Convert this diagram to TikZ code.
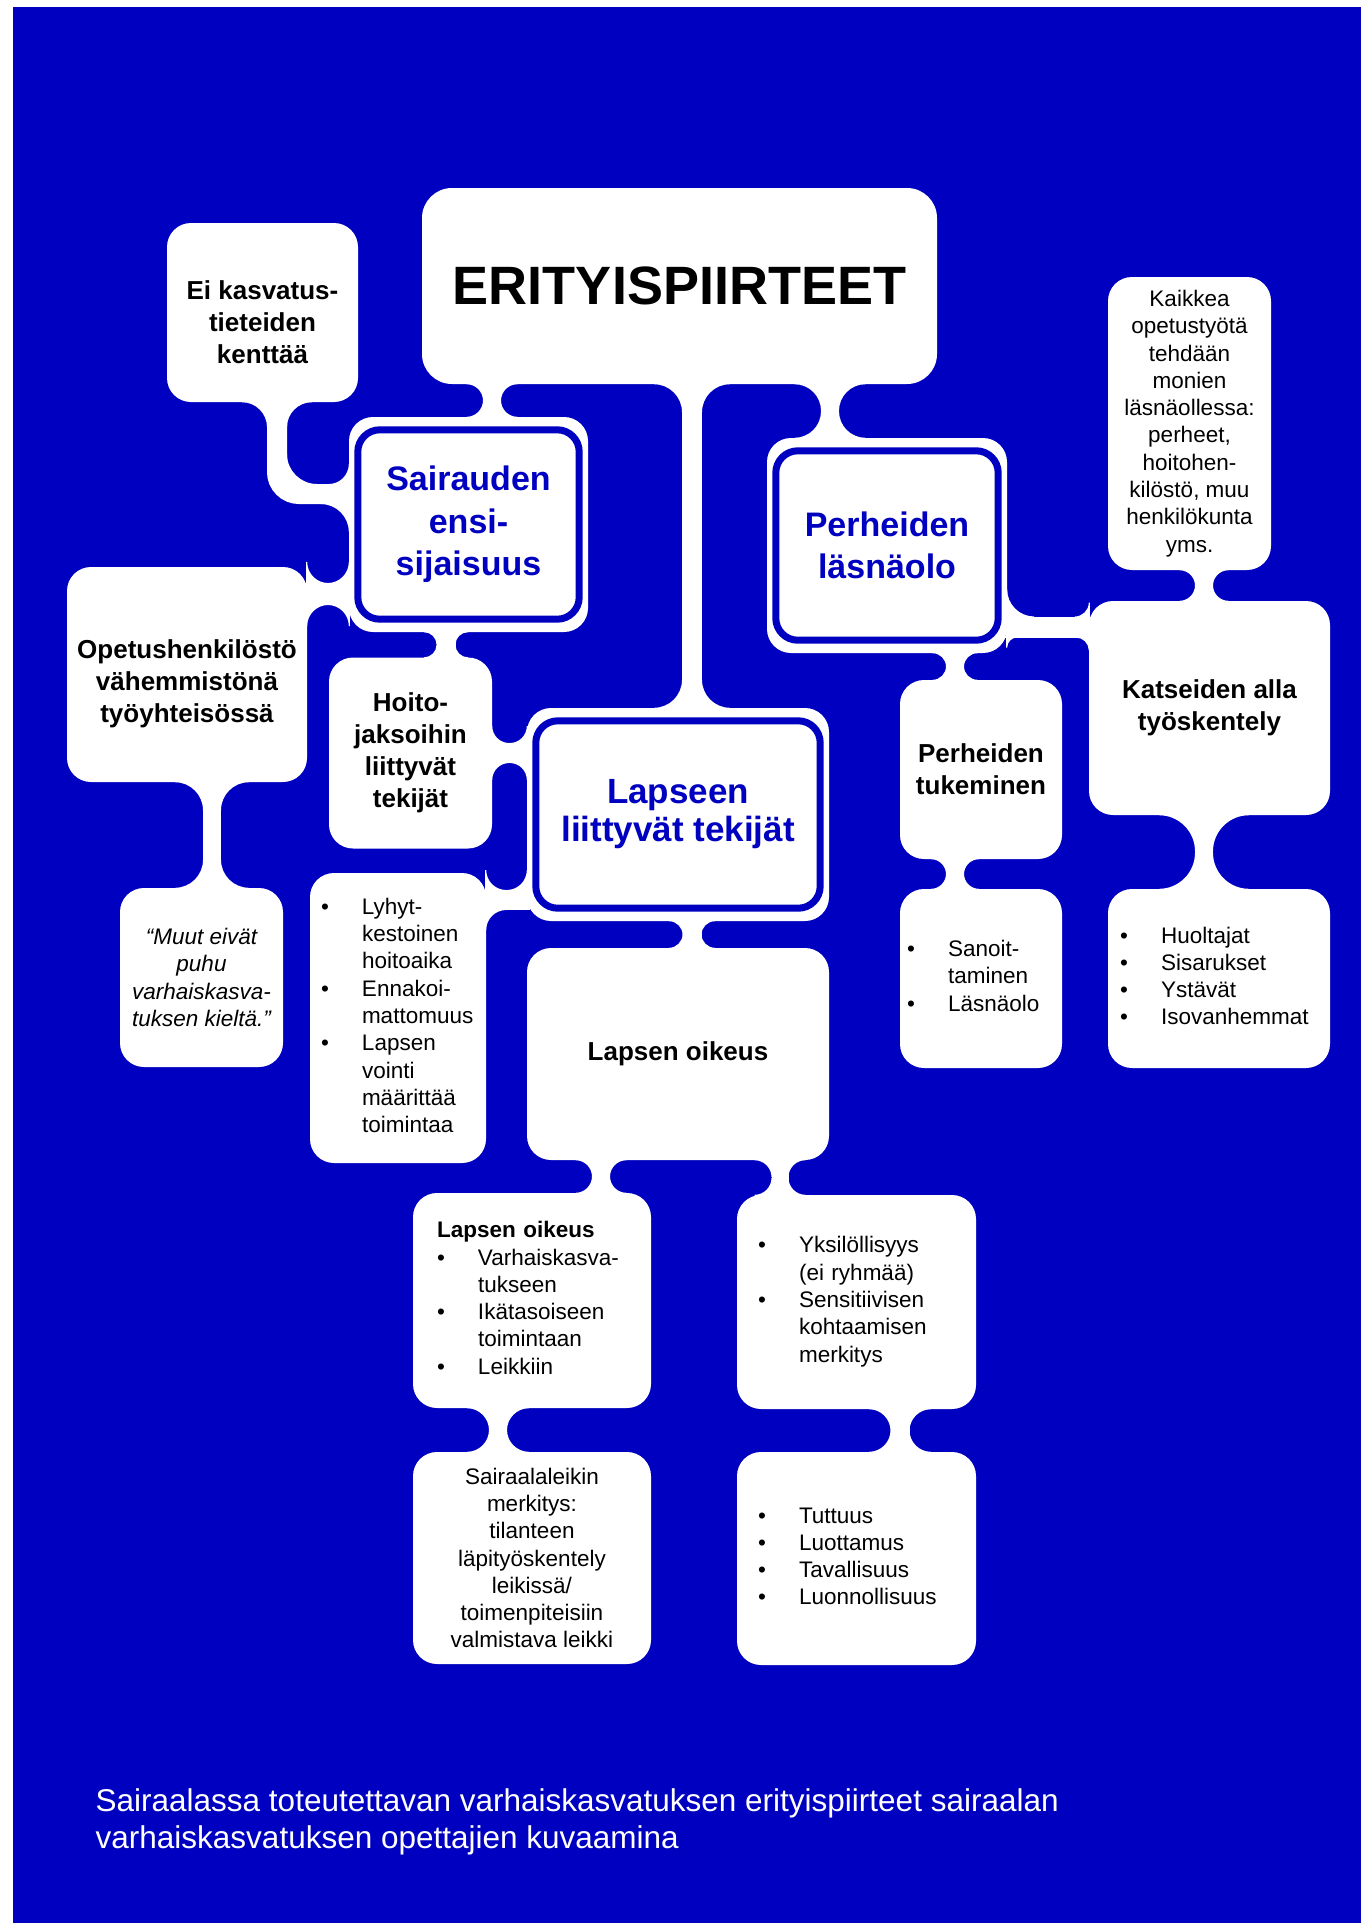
\documentclass[tikz,border=0pt]{standalone}
\usepackage{fontspec}
\setmainfont{Liberation Sans}
\definecolor{bblue}{RGB}{0,0,192}
\pgfdeclarelayer{back}
\pgfdeclarelayer{mid}
\pgfsetlayers{back,mid,main}

% concave white corner: corner point, x sign, y sign, radius
\newcommand{\fillet}[4]{%
  \ifdim#4pt>0pt
  \fill[white] (#1) ++({-1*(#2)},{-1*(#3)}) -- ++({#2*(#4+1)},0) -- ++(0,{#3})
    arc[start angle={-90*(#3)}, end angle={-90*(#3)*(1+(#2))}, radius=#4]
    -- ++({-1*(#2)},0) -- cycle;
  \fi}
% vertical neck: upper node, lower node, x, width, four fillet radii
\newcommand{\vneck}[8]{%
  \coordinate (nk) at (#3,0);
  \coordinate (nt) at (#1.south -| nk);
  \coordinate (nb) at (#2.north -| nk);
  \fill[white] ([xshift=-#4*0.5pt, yshift=3pt]nt) rectangle ([xshift=#4*0.5pt, yshift=-3pt]nb);
  \fillet{[xshift=-#4*0.5pt]nt}{-1}{1}{#5}
  \fillet{[xshift=#4*0.5pt]nt}{1}{1}{#6}
  \fillet{[xshift=-#4*0.5pt]nb}{-1}{-1}{#7}
  \fillet{[xshift=#4*0.5pt]nb}{1}{-1}{#8}}
% horizontal neck: left node, right node, y, width, four fillet radii
\newcommand{\hneck}[8]{%
  \coordinate (nk) at (0,#3);
  \coordinate (nl) at (#1.east |- nk);
  \coordinate (nr) at (#2.west |- nk);
  \fill[white] ([xshift=-3pt, yshift=#4*0.5pt]nl) rectangle ([xshift=3pt, yshift=-#4*0.5pt]nr);
  \fillet{[yshift=#4*0.5pt]nl}{1}{-1}{#5}
  \fillet{[yshift=-#4*0.5pt]nl}{1}{1}{#6}
  \fillet{[yshift=#4*0.5pt]nr}{-1}{-1}{#7}
  \fillet{[yshift=-#4*0.5pt]nr}{-1}{1}{#8}}

\begin{document}
\begin{tikzpicture}[x=1pt, y=-1pt,
  boxw/.style={fill=white, rounded corners=24, inner sep=0pt, align=center},
  ringb/.style={draw=bblue, line width=7pt, rounded corners=22},
  txtb/.style={font=\fontsize{26}{32}\selectfont\bfseries, align=center},
  txtr/.style={font=\fontsize{22.5}{27.3}\selectfont, align=center},
  txtit/.style={font=\fontsize{22.5}{27.3}\selectfont\itshape, align=center},
  headb/.style={font=\fontsize{34}{42.5}\selectfont\bfseries, text=bblue},
  titl/.style={font=\fontsize{54}{60}\selectfont\bfseries},
  capt/.style={font=\fontsize{31.5}{37}\selectfont, text=white, align=left, anchor=west, inner sep=0pt}]
  \useasboundingbox (0,0) rectangle (1361,1923);

  % Background
  \begin{pgfonlayer}{back}
    \fill[white] (0,0) rectangle (1361,1923);
    \fill[bblue] (12.5,6.5) rectangle (1361,1923);
  \end{pgfonlayer}

  % Boxes
  \node[boxw, titl, minimum width=515, minimum height=196, rounded corners=30] (erit) at (679.5,286) {ERITYISPIIRTEET};
  \node[boxw, minimum width=191, minimum height=179] (ei) at (262.5,312.5) {};
  \node[txtb] (ei-t) at ([yshift=-10pt]ei.center) {Ei kasvatus-\\tieteiden\\kenttää};
  \node[boxw, headb, minimum width=239, minimum height=215] (sair) at (468.5,524.5) {Sairauden\\ensi-\\sijaisuus};
  \node[boxw, headb, minimum width=240, minimum height=215] (perh) at (887,545.5) {Perheiden\\läsnäolo};
  \node[boxw, headb, font=\fontsize{35}{38}\selectfont\bfseries, minimum width=302, minimum height=213] (lapseen) at (678,814.5) {Lapseen\\liittyvät tekijät};
  \foreach \n in {sair, perh, lapseen}
    \draw[ringb] ([xshift=9pt, yshift=-13pt]\n.north west) rectangle ([xshift=-9pt, yshift=13pt]\n.south east);

  \node[boxw, txtr, minimum width=163, minimum height=293] (kaikkea) at (1189.5,423.5)
    {Kaikkea\\opetustyötä\\tehdään\\monien\\läsnäollessa:\\perheet,\\hoitohen-\\kilöstö, muu\\henkilökunta\\yms.};
  \node[boxw, txtb, minimum width=241, minimum height=214] (katseiden) at (1209.5,708) {Katseiden alla\\työskentely};
  \node[boxw, minimum width=240, minimum height=215] (opetus) at (187,674.5) {};
  \node[txtb] (opetus-t) at ([yshift=-9pt]opetus.center) {Opetushenkilöstö\\vähemmistönä\\työyhteisössä};
  \node[boxw, txtb, minimum width=163, minimum height=191] (hoito) at (410.5,753) {Hoito-\\jaksoihin\\liittyvät\\tekijät};
  \node[boxw, txtit, minimum width=163, minimum height=179] (muut) at (201.5,977.5) {“Muut eivät\\puhu\\varhaiskasva-\\tuksen kieltä.”};
  \node[boxw, txtr, minimum width=176, minimum height=290, text width=154, align=left] (lyhyt) at (398,1018)
    {\begin{tabular}{@{}p{41pt}@{}l@{}}
      • & Lyhyt-\\ & kestoinen\\ & hoitoaika\\
      • & Ennakoi-\\ & mattomuus\\
      • & Lapsen\\ & vointi\\ & määrittää\\ & toimintaa
     \end{tabular}};
  \node[boxw, txtb, minimum width=302, minimum height=212] (oikeus) at (678,1054) {Lapsen oikeus};
  \node[boxw, txtr, minimum width=238, minimum height=215, text width=190, align=left] (vasen) at (532,1300.5)
    {\begin{tabular}{@{}p{41pt}@{}l@{}}
      \multicolumn{2}{@{}l@{}}{\bfseries Lapsen oikeus}\\
      • & Varhaiskasva-\\ & tukseen\\
      • & Ikätasoiseen\\ & toimintaan\\
      • & Leikkiin
     \end{tabular}};
  \node[boxw, txtr, minimum width=239, minimum height=214, text width=197, align=left] (yksil) at (856.5,1302)
    {\begin{tabular}{@{}p{41pt}@{}l@{}}
      • & Yksilöllisyys\\ & (ei ryhmää)\\
      • & Sensitiivisen\\ & kohtaamisen\\ & merkitys
     \end{tabular}};
  \node[boxw, txtr, minimum width=238, minimum height=212] (leikki) at (532,1558)
    {Sairaalaleikin\\merkitys:\\tilanteen\\läpityöskentely\\leikissä/\\toimenpiteisiin\\valmistava leikki};
  \node[boxw, txtr, minimum width=239, minimum height=213, text width=197, align=left] (tuttuus) at (856.5,1558.5)
    {\begin{tabular}{@{}p{41pt}@{}l@{}}
      • & Tuttuus\\ • & Luottamus\\ • & Tavallisuus\\ • & Luonnollisuus
     \end{tabular}};
  \node[boxw, txtb, minimum width=162, minimum height=179] (tukeminen) at (981,769.5) {Perheiden\\tukeminen};
  \node[boxw, txtr, minimum width=162, minimum height=179, text width=148, align=left] (sanoit) at (981,978.5)
    {\begin{tabular}{@{}p{41pt}@{}l@{}}
      • & Sanoit-\\ & taminen\\ • & Läsnäolo
     \end{tabular}};
  \node[boxw, txtr, minimum width=222, minimum height=179, text width=198, align=left] (huoltajat) at (1219,978.5)
    {\begin{tabular}{@{}p{41pt}@{}l@{}}
      • & Huoltajat\\ • & Sisarukset\\ • & Ystävät\\ • & Isovanhemmat
     \end{tabular}};

  % Necks
  \begin{pgfonlayer}{mid}
    \vneck{erit}{sair}{492}{18}{16.5}{16.5}{16.5}{16.5}
    \vneck{erit}{perh}{830}{18}{26.5}{26.5}{26.5}{26.5}
    \vneck{erit}{lapseen}{692}{20}{28}{28}{28}{28}
    \vneck{sair}{hoito}{446}{19}{12.5}{12.5}{12.5}{12.5}
    \vneck{opetus}{muut}{212}{18}{28}{28}{28}{28}
    \vneck{lapseen}{oikeus}{692}{19}{13.5}{13.5}{13.5}{13.5}
    \vneck{oikeus}{vasen}{601}{18}{16.5}{16.5}{16.5}{16.5}
    \vneck{oikeus}{yksil}{780}{17}{17}{17}{17}{17}
    \vneck{vasen}{leikki}{498}{18}{22}{22}{22}{22}
    \vneck{yksil}{tuttuus}{900}{19}{21.5}{21.5}{21.5}{21.5}
    \vneck{perh}{tukeminen}{955}{18}{13.5}{13.5}{13.5}{13.5}
    \vneck{tukeminen}{sanoit}{955}{18}{15}{15}{15}{15}
    \vneck{kaikkea}{katseiden}{1204}{18}{15.5}{15.5}{15.5}{15.5}
    \vneck{katseiden}{huoltajat}{1204}{18}{36}{36}{36}{36}
    \hneck{opetus}{sair}{594}{22}{21}{21}{21}{21}
    \hneck{hoito}{lapseen}{753}{20}{17}{17}{17}{17}
    \hneck{lyhyt}{lapseen}{900}{20}{20}{20}{20}{0}
    \hneck{perh}{katseiden}{627}{21}{27}{10}{14}{13}
    % bent neck from Ei to Sairauden
    \coordinate (k1) at (277,494);
    \coordinate (k0) at (ei.south -| k1);
    \coordinate (k2) at (sair.west |- k1);
    \draw[white, line width=20pt, rounded corners=22pt] ([yshift=3pt]k0) |- ([xshift=3pt]k2);
    \fillet{[xshift=-10pt]k0}{-1}{1}{25}
    \fillet{[xshift=10pt]k0}{1}{1}{25}
    \fillet{[xshift=10pt, yshift=10pt]k1}{1}{-1}{30}
    \fillet{[yshift=10pt]k2}{-1}{-1}{20}
    \fillet{[yshift=-10pt]k2}{-1}{1}{28}
  \end{pgfonlayer}

  % Caption
  \node[capt] (cap) at (95.5,1822) {Sairaalassa toteutettavan varhaiskasvatuksen erityispiirteet sairaalan\\varhaiskasvatuksen opettajien kuvaamina};
\end{tikzpicture}
\end{document}
